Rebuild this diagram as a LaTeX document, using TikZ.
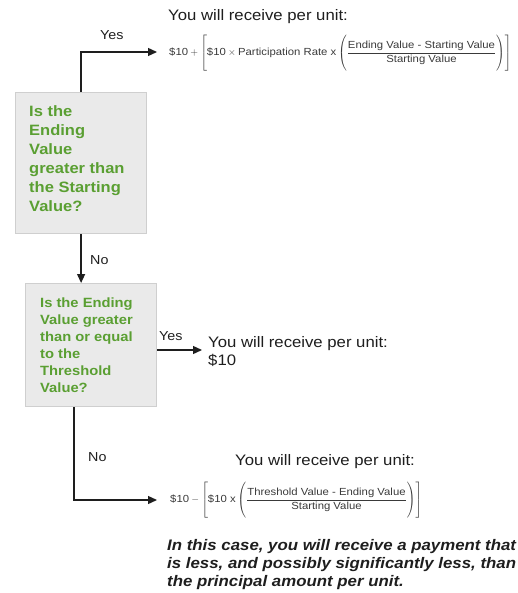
\documentclass[tikz,border=0pt]{standalone}
\usepackage{amsmath}
\usepackage{fontspec}
\setmainfont{Liberation Sans}[FakeStretch=1.1]
\usetikzlibrary{arrows.meta}
\definecolor{qgreen}{HTML}{5A9F32}
\definecolor{boxfill}{HTML}{EAEAEA}
\definecolor{boxline}{HTML}{CFCFCF}
\definecolor{ink}{HTML}{1E1E1E}
\definecolor{fink}{HTML}{3A3A3A}
\newcommand{\tallstrut}{\vcenter{\hbox{\rule{0pt}{36pt}}}}
\begin{document}
\begin{tikzpicture}[x=1pt,y=-1pt,
  qbox/.style={draw=boxline, fill=boxfill, line width=1.2pt, inner sep=0pt, anchor=north west},
  qtext/.style={text=qgreen, font=\bfseries\fontsize{15}{19}\selectfont, align=left, inner sep=0pt, anchor=base west},
  lbl/.style={text=ink, font=\fontsize{13}{15}\selectfont, inner sep=0pt, anchor=base west},
  head/.style={text=ink, font=\fontsize{15.2}{18}\selectfont, inner sep=0pt, anchor=base west},
  note/.style={text=ink, font=\bfseries\itshape\fontsize{15.3}{18}\selectfont, inner sep=0pt, anchor=base west, align=left},
  arr/.style={draw=ink, line width=1.3pt, -{Triangle[length=9pt,width=8pt]}},
  formula/.style={text=fink, font=\fontsize{10.3}{12}\selectfont, inner sep=0pt, anchor=west},
]
\useasboundingbox (0,0) rectangle (517,593);

% first question (base anchor = last line)
\node[qbox, minimum width=131pt, minimum height=141pt] (q1) at (15,92) {};
\node[qtext] (q1t) at (29,212) {Is the\\Ending\\Value\\greater than\\the Starting\\Value?};

% second question
\node[qbox, minimum width=131pt, minimum height=123pt] (q2) at (25,283) {};
\node[qtext, font=\bfseries\fontsize{13.4}{17}\selectfont] (q2t) at (40,392) {Is the Ending\\Value greater\\than or equal\\to the\\Threshold\\Value?};

% top outcome
\node[head] (h1) at (168,21) {You will receive per unit:};
\node[formula] (f1) at (169,53) {$\mbox{\$10}+\left[\tallstrut\mbox{\$10}\times\mbox{Participation Rate x}\left(\tallstrut\dfrac{\mbox{Ending Value - Starting Value}}{\mbox{Starting Value}}\right)\right]$};
\coordinate (t1) at (157,52);
\draw[arr] (q1.north) |- (t1);
\node[lbl] (y1) at (100,40) {Yes};

% q1 -> q2
\draw[arr] (q1.south) -- (q1.south |- q2.north);
\node[lbl] (n1) at (90,264) {No};

% middle outcome
\coordinate (t2) at (202,350);
\draw[arr] (q2.east |- t2) -- (t2);
\node[lbl] (y2) at (159,340) {Yes};
\node[head, align=left] (h2) at (208,365) {You will receive per unit:\\\$10};

% bottom outcome
\coordinate (t3) at (157,500);
\draw[arr] ([xshift=-17pt]q2.south) |- (t3);
\node[lbl] (n2) at (88,461) {No};
\node[head] (h3) at (235,465) {You will receive per unit:};
\node[formula] (f2) at (170,500) {$\mbox{\$10}-\left[\tallstrut\mbox{\$10 x}\left(\tallstrut\dfrac{\mbox{Threshold Value - Ending Value}}{\mbox{Starting Value}}\right)\right]$};
\node[note] (nt) at (167,586) {In this case, you will receive a payment that\\is less, and possibly significantly less, than\\the principal amount per unit.};
\end{tikzpicture}
\end{document}
